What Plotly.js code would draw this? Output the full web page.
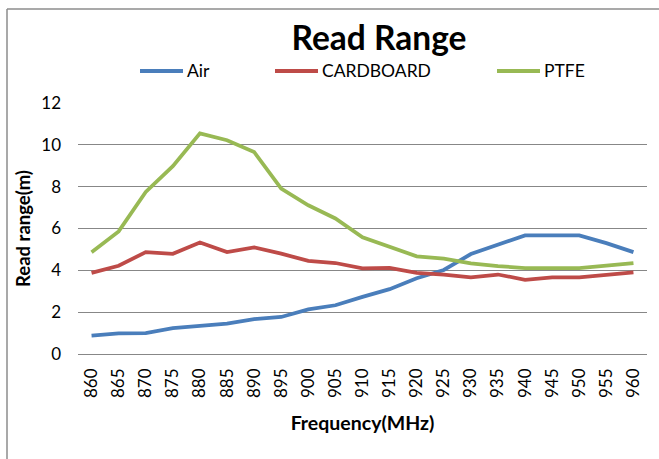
<!DOCTYPE html>
<html>
<head>
<meta charset="utf-8">
<script src="https://cdn.plot.ly/plotly-3.0.1.min.js"></script>
<style>
html,body{margin:0;padding:0;background:#fff;}
#chart{width:659px;height:459px;}
</style>
</head>
<body>
<div id="chart"></div>
<script>
// ---- data ----
const frequencies = ['860','865','870','875','880','885','890','895','900','905','910',
                     '915','920','925','930','935','940','945','950','955','960'];
const airRange = [0.88,0.99,1.0,1.24,1.35,1.45,1.67,1.77,2.13,2.33,2.73,
                  3.1,3.62,4.02,4.78,5.23,5.67,5.67,5.67,5.3,4.87];
const cardboardRange = [3.88,4.22,4.87,4.79,5.33,4.87,5.1,4.8,4.45,4.35,4.09,
                        4.12,3.88,3.8,3.66,3.8,3.55,3.66,3.66,3.77,3.9];
const ptfeRange = [4.87,5.86,7.75,8.98,10.55,10.22,9.66,7.91,7.11,6.48,5.58,
                   5.12,4.67,4.56,4.33,4.2,4.11,4.11,4.11,4.22,4.35];
const seriesNames = ['Air','CARDBOARD','PTFE'];
const seriesColors = ['#4A7EBB','#BE4B48','#98B954'];
const yTickVals = [0,2,4,6,8,10,12];

// ---- layout geometry ----
const W = 659, H = 459;
const M = {l:78, r:12, t:103, b:105};
const PW = W - M.l - M.r, PH = H - M.t - M.b;
const px2x = px => (px - M.l) / PW;
const px2y = py => (H - M.b - py) / PH;

const FONT = 'Lato, "Open Sans", "Noto Sans", sans-serif';

const seriesData = [airRange, cardboardRange, ptfeRange];
const traces = seriesData.map((vals, i) => ({
  type: 'scatter', mode: 'lines',
  x: frequencies, y: vals,
  name: seriesNames[i],
  line: {color: seriesColors[i], width: 3.75},
  showlegend: false,
  hoverinfo: 'x+y+name'
}));

// manual legend (Excel style): line sample then label
const legendStartPx = [140, 275, 497];
const legendY = px2y(71);
const shapes = [];
const annotations = [];
seriesNames.forEach((n, i) => {
  const x0 = legendStartPx[i];
  shapes.push({type:'line', xref:'paper', yref:'paper',
    x0: px2x(x0), x1: px2x(x0 + 43), y0: legendY, y1: legendY,
    line:{color: seriesColors[i], width: 4}});
  annotations.push({xref:'paper', yref:'paper', x: px2x(x0 + 45), y: legendY,
    xanchor:'left', yanchor:'middle', showarrow:false, text: n,
    font:{family: FONT, size: 17.5, color:'#000'}});
});

// chart-area border (top and left visible)
shapes.push({type:'line', xref:'paper', yref:'paper',
  x0: px2x(7), x1: px2x(W + 5), y0: px2y(9), y1: px2y(9),
  line:{color:'#8C8C8C', width:1.5}});
shapes.push({type:'line', xref:'paper', yref:'paper',
  x0: px2x(7), x1: px2x(7), y0: px2y(9), y1: px2y(H + 5),
  line:{color:'#8C8C8C', width:1.5}});

const layout = {
  width: W, height: H,
  margin: M,
  paper_bgcolor: '#fff', plot_bgcolor: '#fff',
  font: {family: FONT, color: '#000'},
  title: {text: '<b>Read Range</b>', font:{family: FONT, size: 33.5, color:'#000'},
          x: 379 / W, xanchor: 'center', xref: 'container',
          y: 1 - 38 / H, yanchor: 'middle', yref: 'container'},
  xaxis: {
    type: 'category', range: [-0.5, frequencies.length - 0.5],
    tickangle: -90, tickfont: {family: FONT, size: 17, color:'#000'},
    showgrid: false, zeroline: false, showline: false, ticks: '',
    ticklabelstandoff: 10,
    title: {text: '<b>Frequency(MHz)</b>', font:{family: FONT, size: 19.5, color:'#000'}, standoff: 19},
    automargin: false, fixedrange: true
  },
  yaxis: {
    range: [0, 12], tickvals: yTickVals, ticktext: yTickVals.map(String),
    tickfont: {family: FONT, size: 17, color:'#000'},
    showgrid: true, gridcolor: '#878787', gridwidth: 1,
    zeroline: true, zerolinecolor: '#878787', zerolinewidth: 1,
    showline: false, ticks: '', ticklabelstandoff: 16,
    title: {text: '<b>Read range(m)</b>', font:{family: FONT, size: 18.5, color:'#000'}, standoff: 5},
    automargin: false, fixedrange: true
  },
  shapes: shapes,
  annotations: annotations,
  showlegend: false
};

Plotly.newPlot('chart', traces, layout, {displayModeBar: false, staticPlot: true});
</script>
</body>
</html>
